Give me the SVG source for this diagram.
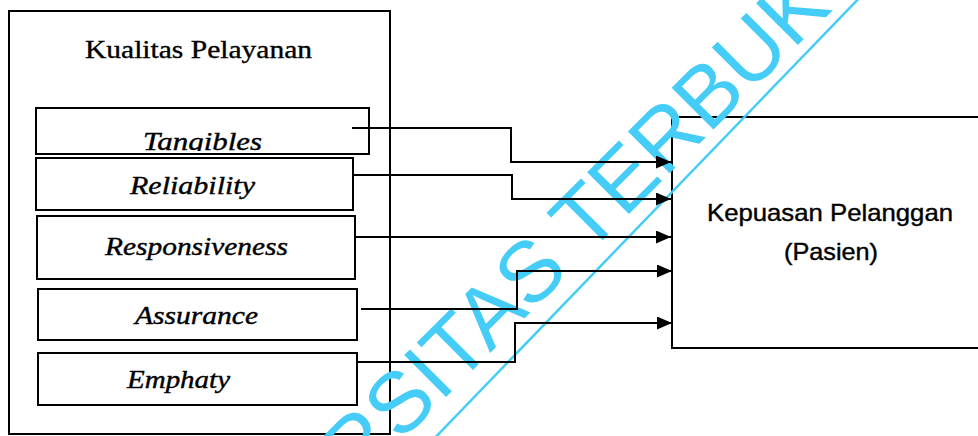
<svg xmlns="http://www.w3.org/2000/svg" width="978" height="436" viewBox="0 0 978 436">
<style>
.box{fill:none;stroke:#000;stroke-width:2}
.ttl{font-family:"Liberation Serif","Times New Roman",serif;font-size:25px;fill:#000;stroke:#000;stroke-width:0.35}
.lbl{font-family:"Liberation Serif","Times New Roman",serif;font-style:italic;font-size:26px;fill:#000;stroke:#000;stroke-width:0.4}
.sans{font-family:"Liberation Sans",Arial,sans-serif;font-size:24px;fill:#000;stroke:#000;stroke-width:0.4;text-anchor:middle}
.con{fill:none;stroke:#000;stroke-width:2;marker-end:url(#arr)}
.wm{font-family:"Liberation Sans",Arial,sans-serif;font-size:86px;fill:#45cdf8}
</style>
<defs>
<marker id="arr" markerUnits="userSpaceOnUse" markerWidth="16" markerHeight="14" refX="15" refY="6.5" orient="auto">
<path d="M0,0 L15,6.5 L0,13 z" fill="#000"/>
</marker>
<clipPath id="tclip"><rect x="36" y="108" width="333" height="43"/></clipPath>
</defs>
<rect width="978" height="436" fill="#fff"/>
<g id="kualitas">
<rect class="box" x="9" y="11" width="381" height="423"/>
<text class="ttl" x="85" y="58" textLength="227" lengthAdjust="spacingAndGlyphs">Kualitas Pelayanan</text>
</g>
<g id="tangibles">
<rect class="box" x="36" y="108" width="333" height="46"/>
<text class="lbl" x="143" y="150" font-size="28" textLength="119" lengthAdjust="spacingAndGlyphs" clip-path="url(#tclip)">Tangibles</text>
</g>
<g id="reliability">
<rect class="box" x="36" y="158" width="317" height="52"/>
<text class="lbl" x="130" y="194" textLength="125" lengthAdjust="spacingAndGlyphs">Reliability</text>
</g>
<g id="responsiveness">
<rect class="box" x="37" y="216" width="318" height="63"/>
<text class="lbl" x="105" y="255" textLength="183" lengthAdjust="spacingAndGlyphs">Responsiveness</text>
</g>
<g id="assurance">
<rect class="box" x="38" y="289" width="319" height="51"/>
<text class="lbl" x="135" y="324" textLength="123" lengthAdjust="spacingAndGlyphs">Assurance</text>
</g>
<g id="emphaty">
<rect class="box" x="38" y="353" width="319" height="52"/>
<text class="lbl" x="127" y="388" textLength="103" lengthAdjust="spacingAndGlyphs">Emphaty</text>
</g>
<g id="kepuasan">
<rect class="box" x="672" y="117" width="320" height="231"/>
<text class="sans" x="830" y="221" textLength="246" lengthAdjust="spacingAndGlyphs">Kepuasan Pelanggan</text>
<text class="sans" x="831" y="260" textLength="94" lengthAdjust="spacingAndGlyphs">(Pasien)</text>
</g>
<g id="watermark">
<line x1="866" y1="-9" x2="428" y2="445" stroke="#45cdf8" stroke-width="2.5"/>
<text class="wm" transform="translate(356,487) rotate(-45)">RSITAS TERBUK</text>
</g>
<g id="connectors">
<path class="con" d="M352,128 H511 V162 H671"/>
<path class="con" d="M353,175 H512 V199 H671"/>
<path class="con" d="M355,237 H671"/>
<path class="con" d="M361,309 H517 V271 H672"/>
<path class="con" d="M357,362 H515 V323 H672"/>
</g>
</svg>
